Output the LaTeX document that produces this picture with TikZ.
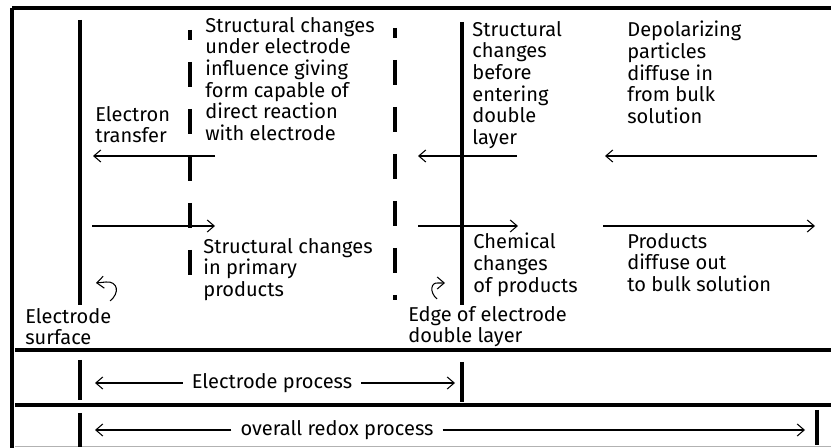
\documentclass[tikz,border=0pt]{standalone}
\usepackage{fontspec}
\setmainfont{Fira Sans}
\usetikzlibrary{arrows.meta}

\begin{document}
\begin{tikzpicture}[
    every node/.style={font=\fontsize{11.4}{12.3}\selectfont},
    lbl/.style={anchor=north west,align=left,inner sep=0pt},
    proc/.style={inner sep=5pt},
    rule/.style={line width=2.3pt},
    wall/.style={line width=2pt},
    dashwall/.style={line width=2pt,dash pattern=on 0.5cm off 0.44cm,dash phase=0.3cm},
    arr/.style={-{Straight Barb[length=1.4mm,width=2.4mm]},line width=0.6pt}
  ]
    \useasboundingbox (0,0) rectangle (16.62,-8.96);
    % frame and rules
    \draw[rule] (0.24,-0.16) -- (16.62,-0.16);
    \draw[rule] (0.24,-0.16) -- (0.24,-8.96);
    \draw[rule] (0.30,-7.00) -- (16.62,-7.00);
    \draw[rule] (0.30,-8.10) -- (16.62,-8.10);
    \draw[gray!60,line width=0.4pt] (0.30,-8.93) -- (16.62,-8.93);
    % boundaries
    \draw[wall] (1.60,-0.40) -- (1.60,-6.10);
    \draw[dashwall] (3.80,-0.60) -- (3.80,-5.60);
    \draw[dashwall] (7.90,-0.56) -- (7.90,-6.00);
    \draw[wall] (9.24,-0.44) -- (9.24,-6.10);
    % labels
    \node[lbl] (etrans) at (1.90,-2.12) {Electron\\transfer};
    \node[lbl] (struct) at (4.10,-0.34) {Structural changes\\under electrode\\influence giving\\form capable of\\direct reaction\\with electrode};
    \node[lbl] (before) at (9.44,-0.42) {Structural\\changes\\before\\entering\\double\\layer};
    \node[lbl] (depol) at (12.54,-0.42) {Depolarizing\\particles\\diffuse in\\from bulk\\solution};
    \node[lbl] (primary) at (4.06,-4.76) {Structural changes\\in primary\\products};
    \node[lbl] (chem) at (9.46,-4.66) {Chemical\\changes\\of products};
    \node[lbl] (prod) at (12.54,-4.66) {Products\\diffuse out\\to bulk solution};
    \node[lbl] (surf) at (0.50,-6.16) {Electrode\\surface};
    \node[lbl] (edge) at (8.16,-6.12) {Edge of electrode\\double layer};
    % flow arrows
    \coordinate (in1s) at (4.30,-3.12);
    \coordinate (in1e) at (1.86,-3.12);
    \coordinate (in2s) at (10.34,-3.12);
    \coordinate (in2e) at (8.36,-3.12);
    \coordinate (in3s) at (16.34,-3.12);
    \coordinate (in3e) at (12.10,-3.12);
    \coordinate (out1s) at (1.84,-4.52);
    \coordinate (out1e) at (4.30,-4.52);
    \coordinate (out2s) at (8.36,-4.52);
    \coordinate (out2e) at (10.36,-4.52);
    \coordinate (out3s) at (12.06,-4.52);
    \coordinate (out3e) at (16.30,-4.52);
    \draw[arr] (in1s) -- (in1e);
    \draw[arr] (in2s) -- (in2e);
    \draw[arr] (in3s) -- (in3e);
    \draw[arr] (out1s) -- (out1e);
    \draw[arr] (out2s) -- (out2e);
    \draw[arr] (out3s) -- (out3e);
    % turning arrows
    \draw[arr] (2.20,-6.02) .. controls (2.40,-5.86) and (2.36,-5.62) .. (2.12,-5.64) -- (1.92,-5.66);
    \draw[arr] (8.74,-5.98) .. controls (8.58,-5.84) and (8.62,-5.64) .. (8.76,-5.66) -- (8.90,-5.66);
    % process spans
    \draw[wall] (1.60,-7.20) -- (1.60,-8.00);
    \draw[wall] (9.24,-7.24) -- (9.24,-8.04);
    \node[proc] (elproc) at (5.44,-7.66) {Electrode process};
    \coordinate (elL) at (1.90,-7.66);
    \coordinate (elR) at (9.10,-7.66);
    \draw[arr] (elproc) -- (elL);
    \draw[arr] (elproc) -- (elR);
    \draw[wall] (1.60,-8.26) -- (1.60,-8.94);
    \draw[wall,line width=2.8pt] (16.34,-8.20) -- (16.34,-8.90);
    \node[proc] (redox) at (6.74,-8.60) {overall redox process};
    \coordinate (rxL) at (1.90,-8.60);
    \coordinate (rxR) at (16.10,-8.60);
    \draw[arr] (redox) -- (rxL);
    \draw[arr] (redox) -- (rxR);
  \end{tikzpicture}
\end{document}
